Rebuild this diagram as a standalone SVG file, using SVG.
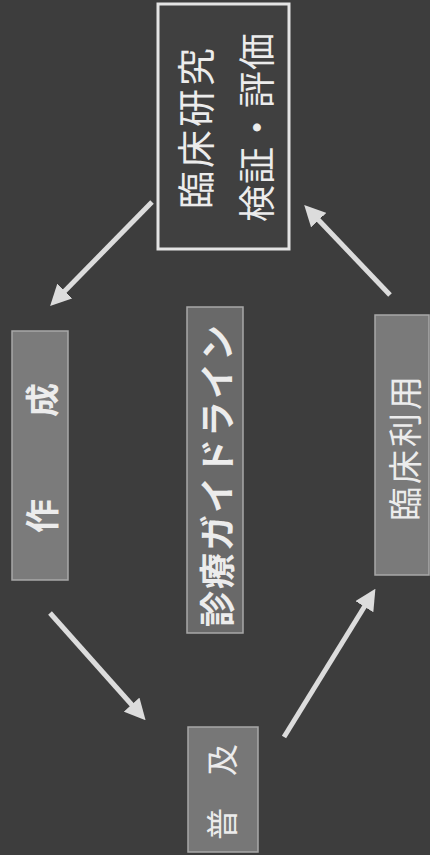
<svg xmlns="http://www.w3.org/2000/svg" width="430" height="855" viewBox="0 0 430 855">
<defs>
<style>
.t{font-family:"Noto Sans CJK JP","Noto Sans CJK SC",sans-serif;fill:#ececec;text-anchor:middle;dominant-baseline:central;font-weight:normal}
.b{font-weight:bold}
.g{stroke:#a8a8a8;stroke-width:1.5}
.c{stroke:#dcdcdc;stroke-width:5;fill:none;marker-end:url(#ah)}
</style>
<marker id="ah" viewBox="0 0 10 10" refX="6" refY="5" markerWidth="4.2" markerHeight="4.2" orient="auto" markerUnits="strokeWidth">
<path d="M0,0 L10,5 L0,10 z" fill="#dcdcdc"/>
</marker>
</defs>
<rect x="0" y="0" width="430" height="855" fill="#3d3d3d"/>
<g id="connectors">
<line class="c" x1="152" y1="202" x2="56" y2="300"/>
<line class="c" x1="50" y1="613" x2="140" y2="714"/>
<line class="c" x1="284" y1="737" x2="371" y2="596"/>
<line class="c" x1="390" y1="295" x2="310" y2="211"/>
</g>
<g id="research">
<rect x="158" y="4" width="131" height="245" fill="#404040" stroke="#e4e4e4" stroke-width="3"/>
<text class="t" font-size="38" letter-spacing="3" transform="translate(193,127) rotate(-90)">臨床研究</text>
<text class="t" font-size="37" letter-spacing="1" transform="translate(255,127) rotate(-90)">検証・評価</text>
</g>
<g id="create">
<rect class="g" x="12" y="331" width="56" height="249" fill="#7b7b7b"/>
<text class="t b" font-size="34" letter-spacing="24" transform="translate(40,458) rotate(-90)" dx="12">作　成</text>
</g>
<g id="guideline">
<rect class="g" x="187" y="307" width="56" height="326" fill="#696969"/>
<text class="t b" font-size="36" letter-spacing="2" transform="translate(215,475) rotate(-90)">診療ガイドライン</text>
</g>
<g id="clinical-use">
<rect class="g" x="375" y="315" width="54" height="260" fill="#7a7a7a"/>
<text class="t" font-size="34" letter-spacing="3" transform="translate(403,447) rotate(-90)">臨床利用</text>
</g>
<g id="spread">
<rect class="g" x="188" y="727" width="70" height="125" fill="#777777"/>
<text class="t" font-size="32" transform="translate(220,792) rotate(-90)">普　及</text>
</g>
</svg>
